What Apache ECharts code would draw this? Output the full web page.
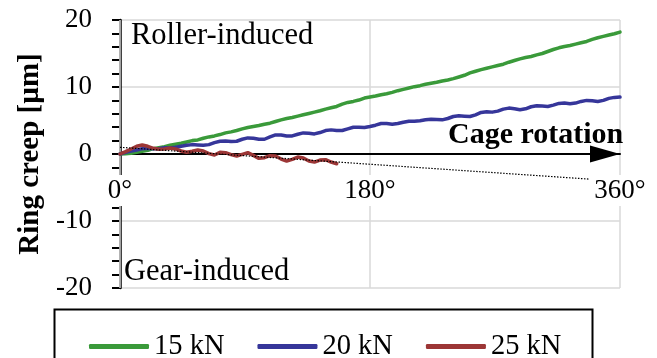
<!DOCTYPE html>
<html>
<head>
<meta charset="utf-8">
<script src="https://cdn.jsdelivr.net/npm/echarts@6/dist/echarts.min.js"></script>
<style>
  html, body { margin: 0; padding: 0; background: #fff; }
  #chart { width: 657px; height: 358px; }
</style>
</head>
<body>
<div id="chart"></div>
<script>
// Cage angle in degrees (shared sampling for all load cases)
const angles = [
  0, 4, 8, 12, 16, 20, 24, 28, 32, 36, 40, 44, 48, 52, 56, 60, 64, 68, 72, 76,
  80, 84, 88, 92, 96, 100, 104, 108, 112, 116, 120, 124, 128, 132, 136, 140, 144, 148, 152, 156,
  160, 164, 168, 172, 176, 180, 184, 188, 192, 196, 200, 204, 208, 212, 216, 220, 224, 228, 232, 236,
  240, 244, 248, 252, 256, 260, 264, 268, 272, 276, 280, 284, 288, 292, 296, 300, 304, 308, 312, 316,
  320, 324, 328, 332, 336, 340, 344, 348, 352, 356, 360
];

// Ring creep in µm
const creep15kN = [
  0.0, 0.05, 0.1, 0.25, 0.4, 0.55, 0.8, 0.95, 1.1, 1.3, 1.45, 1.6, 1.8, 2.0, 2.1, 2.35, 2.55, 2.7, 2.9, 3.15,
  3.3, 3.5, 3.75, 3.95, 4.1, 4.25, 4.45, 4.6, 4.85, 5.1, 5.3, 5.45, 5.65, 5.85, 6.05, 6.25, 6.45, 6.7, 6.9, 7.1,
  7.45, 7.7, 7.85, 8.05, 8.35, 8.5, 8.65, 8.85, 9.0, 9.2, 9.45, 9.65, 9.85, 10.05, 10.2, 10.4, 10.55, 10.7, 10.9, 11.05,
  11.25, 11.5, 11.75, 12.1, 12.35, 12.6, 12.8, 13.0, 13.2, 13.4, 13.7, 13.95, 14.2, 14.4, 14.55, 14.8, 15.0, 15.3, 15.6, 15.85,
  16.05, 16.2, 16.4, 16.6, 16.8, 17.1, 17.35, 17.55, 17.75, 17.95, 18.2
];
const creep20kN = [
  0.0, 0.25, 0.45, 0.6, 0.8, 0.85, 0.8, 0.8, 0.95, 0.9, 1.0, 1.15, 1.3, 1.4, 1.35, 1.3, 1.4, 1.7, 1.9, 1.95,
  1.85, 1.9, 2.2, 2.4, 2.35, 2.2, 2.2, 2.55, 2.85, 2.85, 2.7, 2.7, 2.95, 3.15, 3.1, 3.0, 3.2, 3.5, 3.6, 3.5,
  3.5, 3.75, 4.0, 4.0, 3.95, 4.1, 4.3, 4.55, 4.55, 4.45, 4.55, 4.75, 4.9, 4.9, 4.95, 5.1, 5.2, 5.15, 5.1, 5.3,
  5.6, 5.7, 5.65, 5.6, 5.85, 6.2, 6.3, 6.25, 6.4, 6.7, 6.85, 6.75, 6.6, 6.75, 7.05, 7.2, 7.15, 7.1, 7.3, 7.55,
  7.6, 7.5, 7.6, 7.85, 8.0, 7.95, 7.85, 8.0, 8.3, 8.45, 8.5
];
// 25 kN was recorded only up to 156°
const creep25kN = [
  0.0, 0.35, 0.75, 1.15, 1.35, 1.15, 0.85, 0.7, 0.75, 0.9, 0.75, 0.45, 0.25, 0.4, 0.6, 0.45, 0.05, -0.15, 0.25, 0.2,
  -0.1, -0.3, -0.05, 0.2, -0.2, -0.65, -0.55, -0.25, -0.3, -0.75, -1.05, -0.8, -0.45, -0.6, -1.05, -1.2, -0.9, -0.85, -1.2, -1.45
];

// Linear trend of the 25 kN case
const trendAngles = [0, 338];
const trend25kN = [1.0, -3.75];

const seriesNames = ['15 kN', '20 kN', '25 kN'];
const seriesColors = ['#3a9a3a', '#36369a', '#9c3636'];
const xTicks = { 0: '0°', 180: '180°', 360: '360°' };

const FONT = "'Liberation Serif', 'Times New Roman', serif";

const GRID_TOP = 20;
const GRID_BOTTOM = 70;
const CHART_H = 358;
// lift the angle axis (and its labels) from the grid bottom to the y = 0 line
const zeroLift = -((CHART_H - GRID_TOP - GRID_BOTTOM) / 2);

const pairs = (xs, ys) => ys.map((v, i) => [xs[i], v]);

const chart = echarts.init(document.getElementById('chart'), null, { renderer: 'canvas' });

const lineSeries = [creep15kN, creep20kN, creep25kN].map((vals, i) => ({
  name: seriesNames[i],
  type: 'line',
  data: pairs(angles, vals),
  showSymbol: false,
  symbol: 'none',
  smooth: false,
  lineStyle: { color: seriesColors[i], width: 3.5, join: 'round', cap: 'round' },
  itemStyle: { color: seriesColors[i] },
  z: 3
}));

chart.setOption({
  animation: false,
  backgroundColor: '#ffffff',
  textStyle: { fontFamily: FONT, color: '#000' },
  grid: { left: 120, right: 37, top: GRID_TOP, bottom: GRID_BOTTOM, containLabel: false },
  xAxis: {
    type: 'value',
    min: 0,
    max: 360,
    interval: 180,
    position: 'bottom',
    offset: zeroLift,
    z: 1,
    axisLine: {
      show: true,
      onZero: false,
      lineStyle: { color: '#000', width: 2 },
      symbol: ['none', 'triangle'],
      symbolSize: [17, 30],
      symbolOffset: [0, -15]
    },
    axisTick: { show: false },
    axisLabel: {
      margin: 21,
      fontSize: 27,
      fontFamily: FONT,
      color: '#000',
      backgroundColor: '#ffffff',
      padding: [2, 1, 2, 1],
      formatter: v => xTicks[v] !== undefined ? xTicks[v] : ''
    },
    splitLine: { show: true, lineStyle: { color: '#d9d9d9', width: 1.5 } }
  },
  yAxis: {
    type: 'value',
    min: -20,
    max: 20,
    interval: 10,
    name: 'Ring creep [µm]',
    nameLocation: 'middle',
    nameGap: 75,
    nameTextStyle: { fontSize: 29, fontWeight: 'bold', fontFamily: FONT, color: '#000' },
    axisLine: { show: true, onZero: false, lineStyle: { color: '#000', width: 2.5 } },
    axisTick: { show: true, inside: false, length: 8, lineStyle: { color: '#000', width: 2 } },
    minorTick: { show: true, splitNumber: 5, length: 8, lineStyle: { color: '#000', width: 2 } },
    axisLabel: { margin: 28, fontSize: 27, fontFamily: FONT, color: '#000' },
    splitLine: { show: true, lineStyle: { color: '#d9d9d9', width: 1.5 } }
  },
  legend: {
    data: seriesNames,
    left: 84,
    top: 327,
    orient: 'horizontal',
    icon: 'roundRect',
    itemWidth: 60,
    itemHeight: 5,
    itemGap: 33,
    textStyle: { fontSize: 28.5, fontFamily: FONT, color: '#000' }
  },
  graphic: [
    {
      type: 'rect',
      left: 52,
      top: 307,
      shape: { width: 538, height: 70 },
      style: { fill: 'none', stroke: '#000', lineWidth: 2 },
      silent: true,
      z: 0
    },
    {
      type: 'text',
      left: 131,
      top: 20,
      style: { text: 'Roller-induced', font: '30.5px ' + FONT, fill: '#000' },
      z: 10
    },
    {
      type: 'text',
      left: 124,
      top: 256,
      style: { text: 'Gear-induced', font: '30.5px ' + FONT, fill: '#000' },
      z: 10
    },
    {
      type: 'text',
      left: 448,
      top: 120,
      style: { text: 'Cage rotation', font: 'bold 30px ' + FONT, fill: '#000' },
      z: 10
    }
  ],
  series: lineSeries.concat([{
    name: 'trend',
    type: 'line',
    data: pairs(trendAngles, trend25kN),
    showSymbol: false,
    symbol: 'none',
    lineStyle: { color: '#000', width: 1.2, type: [1.5, 1.5] },
    z: 5
  }])
});
</script>
</body>
</html>
